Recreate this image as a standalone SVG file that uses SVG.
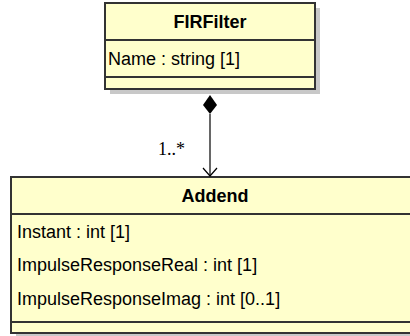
<svg xmlns="http://www.w3.org/2000/svg" width="410" height="336" viewBox="0 0 410 336">
  <style>
    .shadow { fill: #c8c8c8; }
    .box { fill: #ffffcc; stroke: #333333; stroke-width: 2; }
    .div { stroke: #333333; stroke-width: 2; }
    .title { font-family: "Liberation Sans", Arial, sans-serif; font-size: 18px; font-weight: bold; fill: #000; text-anchor: middle; }
    .attr { font-family: "Liberation Sans", Arial, sans-serif; font-size: 18px; fill: #000; }
    .mult { font-family: "Liberation Serif", "Times New Roman", serif; font-size: 18px; fill: #000; }
    .line { stroke: #000; stroke-width: 1.2; fill: none; }
  </style>
  <rect width="410" height="336" fill="#ffffff"/>

  <g id="FIRFilter">
    <rect class="shadow" x="110" y="8" width="210" height="86"/>
    <rect class="box" x="105" y="3" width="210" height="86"/>
    <line class="div" x1="105" y1="40" x2="315" y2="40"/>
    <line class="div" x1="105" y1="77" x2="315" y2="77"/>
    <text class="title" x="210" y="28">FIRFilter</text>
    <text class="attr" x="108" y="65">Name : string [1]</text>
  </g>

  <g id="Addend">
    <rect class="shadow" x="16" y="182" width="400" height="156"/>
    <rect class="box" x="11" y="177" width="402" height="156"/>
    <line class="div" x1="11" y1="214" x2="413" y2="214"/>
    <line class="div" x1="11" y1="322" x2="413" y2="322"/>
    <text class="title" x="215" y="202">Addend</text>
    <text class="attr" x="17" y="238">Instant : int [1]</text>
    <text class="attr" x="17" y="271">ImpulseResponseReal : int [1]</text>
    <text class="attr" x="17" y="305">ImpulseResponseImag : int [0..1]</text>
  </g>

  <g id="connectors">
    <polygon points="210,95 217,105 210,114 203,105" fill="#000"/>
    <line class="line" x1="210" y1="114" x2="210" y2="176"/>
    <polyline class="line" points="203,168 210,176 217,168"/>
    <text class="mult" x="158" y="155">1..*</text>
  </g>
</svg>
